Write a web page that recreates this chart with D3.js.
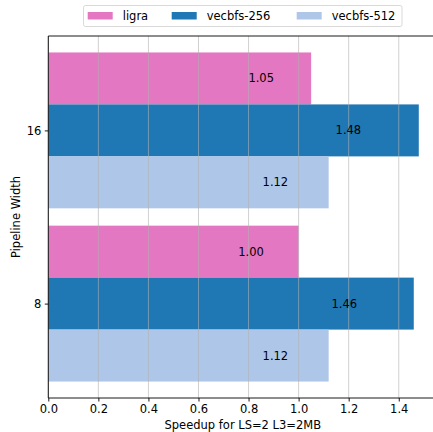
<!DOCTYPE html>
<html><head><meta charset="utf-8">
<script src="https://cdn.jsdelivr.net/npm/d3@7"></script>
<style>body{margin:0;background:#fff}svg{display:block}text{font-family:"DejaVu Sans",sans-serif}</style>
</head><body>
<script>
const categories = ["8", "16"];
const seriesNames = ["ligra", "vecbfs-256", "vecbfs-512"];
const ligra = [1.00, 1.05];
const vecbfs256 = [1.46, 1.48];
const vecbfs512 = [1.12, 1.12];
const colors = ["#e377c2", "#1f77b4", "#aec7e8"];
const xTicks = [0.0, 0.2, 0.4, 0.6, 0.8, 1.0, 1.2, 1.4];
const series = [ligra, vecbfs256, vecbfs512];

const W = 433, H = 432, fs = 11.5;
const L = 48.3, T = 36, B = 398, R = 437.3;
const svg = d3.select("body").append("svg").attr("width", W).attr("height", H);
const x = d3.scaleLinear().domain([0, 1.554]).range([L, R]);
const y = d3.scaleLinear().domain([-0.545, 1.545]).range([B, T]);
const barH = 0.3;
const offsets = [0.3, 0, -0.3];

const g = svg.append("g");
series.forEach((vals, si) => {
  g.selectAll(null).data(vals).enter().append("rect")
    .attr("x", x(0))
    .attr("y", (d, i) => y(i + offsets[si] + barH / 2))
    .attr("width", d => x(d) - x(0))
    .attr("height", y(0) - y(barH))
    .attr("fill", colors[si]);
});
// grid on top
g.selectAll(null).data(xTicks).enter().append("line")
  .attr("x1", d => x(d)).attr("x2", d => x(d)).attr("y1", T).attr("y2", B)
  .attr("stroke", "#b0b0b0").attr("stroke-opacity", 0.6).attr("stroke-width", 1);
// labels
series.forEach((vals, si) => {
  g.selectAll(null).data(vals).enter().append("text")
    .attr("x", d => x(d * 0.81))
    .attr("y", (d, i) => y(i + offsets[si]))
    .attr("dy", "0.35em").attr("text-anchor", "middle")
    .attr("font-size", fs).attr("fill", "#000")
    .text(d => d.toFixed(2));
});
// spines
svg.append("line").attr("x1", L).attr("x2", W).attr("y1", T).attr("y2", T).attr("stroke", "#000").attr("stroke-width", 0.9);
svg.append("line").attr("x1", L).attr("x2", W).attr("y1", B).attr("y2", B).attr("stroke", "#000").attr("stroke-width", 0.9);
svg.append("line").attr("x1", L).attr("x2", L).attr("y1", T).attr("y2", B).attr("stroke", "#000").attr("stroke-width", 0.9);

// x axis
const xa = svg.append("g").attr("transform", `translate(0,${B})`)
  .call(d3.axisBottom(x).tickValues(xTicks).tickFormat(d3.format(".1f")).tickSize(3.5).tickPadding(3.5));
xa.select(".domain").remove();
xa.selectAll("text").attr("font-size", fs).attr("font-family", "DejaVu Sans").attr("fill", "#000");
xa.selectAll("line").attr("stroke", "#000").attr("stroke-width", 0.9);
// y axis
const ya = svg.append("g").attr("transform", `translate(${L},0)`)
  .call(d3.axisLeft(y).tickValues([0, 1]).tickFormat((d, i) => categories[d]).tickSize(3.5).tickPadding(3.5));
ya.select(".domain").remove();
ya.selectAll("text").attr("font-size", fs).attr("font-family", "DejaVu Sans").attr("fill", "#000");
ya.selectAll("line").attr("stroke", "#000").attr("stroke-width", 0.9);

svg.append("text").attr("x", (L + R) / 2).attr("y", 429).attr("text-anchor", "middle")
  .attr("font-size", fs).text("Speedup for LS=2 L3=2MB");
svg.append("text").attr("transform", `translate(20,${(T + B) / 2}) rotate(-90)`).attr("text-anchor", "middle")
  .attr("font-size", fs).text("Pipeline Width");

// legend
const lg = svg.append("g");
lg.append("rect").attr("x", 83.5).attr("y", 5.5).attr("width", 318.5).attr("height", 21).attr("rx", 2)
  .attr("fill", "#fff").attr("fill-opacity", 0.8).attr("stroke", "#d9d9d9").attr("stroke-width", 1);
const hx = [87.7, 171.7, 296.7];
seriesNames.forEach((n, i) => {
  lg.append("rect").attr("x", hx[i]).attr("y", 12).attr("width", 25).attr("height", 7.5).attr("fill", colors[i]);
  lg.append("text").attr("x", hx[i] + 35).attr("y", 16).attr("dy", "0.35em").attr("font-size", fs).text(n);
});
</script>
</body></html>
